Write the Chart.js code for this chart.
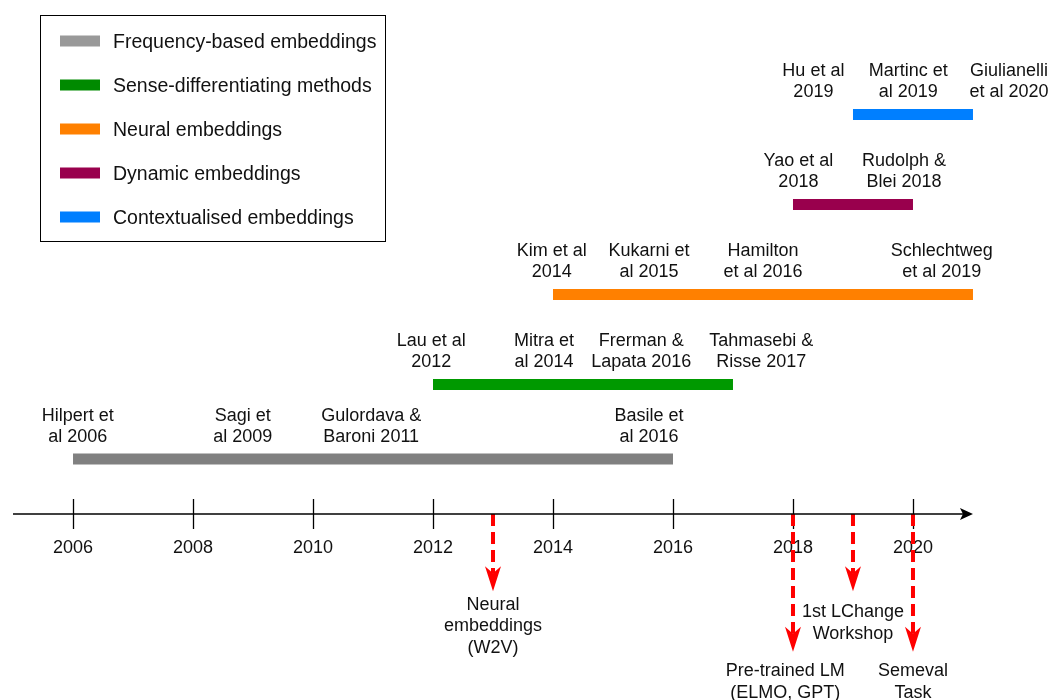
<!DOCTYPE html>
<html>
<head>
<meta charset="utf-8">
<script src="https://cdn.jsdelivr.net/npm/chart.js@4.4.0/dist/chart.umd.min.js"></script>
<style>
    html, body { margin: 0; padding: 0; background: #fff; }
    #wrap { width: 1049px; height: 700px; position: relative; }
</style>
</head>
<body>
<div id="wrap"><canvas id="timeline"></canvas></div>
<script>
// Timeline data
const categories = [
    'Frequency-based embeddings',
    'Sense-differentiating methods',
    'Neural embeddings',
    'Dynamic embeddings',
    'Contextualised embeddings'
];
const periodStart = [2006, 2012, 2014, 2018, 2019];
const periodEnd = [2016, 2017, 2021, 2020, 2021];
const rowLevel = [0.61, 1.44, 2.44, 3.44, 4.44];
const barColors = ['#808080', '#009900', '#ff8000', '#99004d', '#007fff'];
const swatchColors = ['#999999', '#008a00', '#ff8000', '#99004d', '#007fff'];

const yearTicks = [2006, 2008, 2010, 2012, 2014, 2016, 2018, 2020];

// papers above each bar: where the label sits (in years) and its lines
const paperYears = [
    [2006.08, 2008.83, 2010.97, 2015.6],
    [2011.97, 2013.85, 2015.47, 2017.47],
    [2013.98, 2015.6, 2017.5, 2020.48],
    [2018.09, 2019.85],
    [2018.34, 2019.92, 2021.6]
];
const paperNames = [
    [['Hilpert et', 'al 2006'], ['Sagi et', 'al 2009'], ['Gulordava &', 'Baroni 2011'], ['Basile et', 'al 2016']],
    [['Lau et al', '2012'], ['Mitra et', 'al 2014'], ['Frerman &', 'Lapata 2016'], ['Tahmasebi &', 'Risse 2017']],
    [['Kim et al', '2014'], ['Kukarni et', 'al 2015'], ['Hamilton', 'et al 2016'], ['Schlechtweg', 'et al 2019']],
    [['Yao et al', '2018'], ['Rudolph &', 'Blei 2018']],
    [['Hu et al', '2019'], ['Martinc et', 'al 2019'], ['Giulianelli', 'et al 2020']]
];

// events below the axis (red dashed arrows)
const eventYears = [2013, 2018, 2019, 2020];
const eventDepth = [-0.86, -1.53, -0.86, -1.53];
const eventLabelYears = [2013, 2017.87, 2019, 2020];
const eventLabelLevel = [-1.01, -1.75, -1.09, -1.75];
const eventNames = [
    ['Neural', 'embeddings', '(W2V)'],
    ['Pre-trained LM', '(ELMO, GPT)'],
    ['1st LChange', 'Workshop'],
    ['Semeval', 'Task']
];

const FONT = '18px "Liberation Sans", Arial, sans-serif';
const LEGEND_FONT = '19.5px "Liberation Sans", Arial, sans-serif';
const TEXT = '#111111';

// Build datasets
const datasets = [];

// main axis line
datasets.push({
    label: 'axis',
    data: [{ x: 2005, y: 0 }, { x: 2020.85, y: 0 }],
    borderColor: '#000000',
    borderWidth: 1.5
});

// period bars
categories.forEach((name, i) => {
    datasets.push({
        label: name,
        data: [{ x: periodStart[i], y: rowLevel[i] }, { x: periodEnd[i], y: rowLevel[i] }],
        borderColor: barColors[i],
        borderWidth: 11,
        borderCapStyle: 'butt'
    });
});

// event dashed shafts
eventYears.forEach((yr, i) => {
    datasets.push({
        label: 'event',
        data: [{ x: yr, y: 0 }, { x: yr, y: eventDepth[i] + 0.2 }],
        borderColor: '#ff0000',
        borderWidth: 4,
        borderDash: [12, 6],
        borderCapStyle: 'butt'
    });
});

function drawLines(ctx, lines, cx, top, step) {
    lines.forEach((t, k) => ctx.fillText(t, cx, top + k * step));
}

function arrowHead(ctx, tipX, tipY, dir, len, half, notch) {
    // dir: 'down' or 'right'
    ctx.beginPath();
    if (dir === 'down') {
        ctx.moveTo(tipX, tipY);
        ctx.lineTo(tipX - half, tipY - len);
        ctx.lineTo(tipX, tipY - len + notch);
        ctx.lineTo(tipX + half, tipY - len);
    } else {
        ctx.moveTo(tipX, tipY);
        ctx.lineTo(tipX - len, tipY - half);
        ctx.lineTo(tipX - len + notch, tipY);
        ctx.lineTo(tipX - len, tipY + half);
    }
    ctx.closePath();
    ctx.fill();
}

const timelinePlugin = {
    id: 'timeline',
    beforeDatasetsDraw(chart) {
        const { ctx, scales: { x, y } } = chart;
        const y0 = y.getPixelForValue(0);
        ctx.save();

        // ticks
        ctx.strokeStyle = '#000000';
        ctx.lineWidth = 1.3;
        yearTicks.forEach(yr => {
            const px = Math.round(x.getPixelForValue(yr)) + 0.5;
            ctx.beginPath();
            ctx.moveTo(px, y0 - 15);
            ctx.lineTo(px, y0 + 15);
            ctx.stroke();
        });

        ctx.font = FONT;
        ctx.fillStyle = TEXT;
        ctx.textAlign = 'center';
        ctx.textBaseline = 'middle';

        // tick labels
        yearTicks.forEach(yr => ctx.fillText(String(yr), x.getPixelForValue(yr), y0 + 34));

        // axis arrow head
        ctx.fillStyle = '#000000';
        arrowHead(ctx, x.getPixelForValue(2021), y0, 'right', 13, 6, 3);

        // paper labels
        ctx.fillStyle = TEXT;
        paperNames.forEach((row, i) => {
            const by = y.getPixelForValue(rowLevel[i]);
            row.forEach((lines, j) => {
                drawLines(ctx, lines, x.getPixelForValue(paperYears[i][j]), by - 43, 21);
            });
        });

        // event labels
        eventNames.forEach((lines, i) => {
            drawLines(ctx, lines, x.getPixelForValue(eventLabelYears[i]), y.getPixelForValue(eventLabelLevel[i]), 21.5);
        });

        // legend box
        ctx.strokeStyle = '#000000';
        ctx.lineWidth = 1;
        ctx.strokeRect(40.5, 15.5, 345, 226);
        ctx.font = LEGEND_FONT;
        ctx.textAlign = 'left';
        categories.forEach((name, i) => {
            const ty = 41 + i * 44;
            ctx.fillStyle = swatchColors[i];
            ctx.fillRect(60, ty - 5.5, 40, 11);
            ctx.fillStyle = TEXT;
            ctx.fillText(name, 113, ty + 1.5);
        });

        ctx.restore();
    },
    afterDatasetsDraw(chart) {
        const { ctx, scales: { x, y } } = chart;
        ctx.save();
        ctx.fillStyle = '#ff0000';
        eventYears.forEach((yr, i) => {
            arrowHead(ctx, x.getPixelForValue(yr), y.getPixelForValue(eventDepth[i]), 'down', 25, 8, 7);
        });
        ctx.restore();
    }
};

new Chart(document.getElementById('timeline').getContext('2d'), {
    type: 'line',
    data: { datasets: datasets },
    options: {
        responsive: true,
        maintainAspectRatio: false,
        animation: false,
        layout: { padding: 0 },
        elements: { point: { radius: 0, hoverRadius: 0 }, line: { tension: 0 } },
        scales: {
            x: { type: 'linear', min: 2004.783, max: 2022.267, display: false },
            y: { type: 'linear', min: -2.067, max: 5.711, display: false }
        },
        plugins: {
            legend: { display: false },
            tooltip: { enabled: false }
        }
    },
    plugins: [timelinePlugin]
});
</script>
</body>
</html>
